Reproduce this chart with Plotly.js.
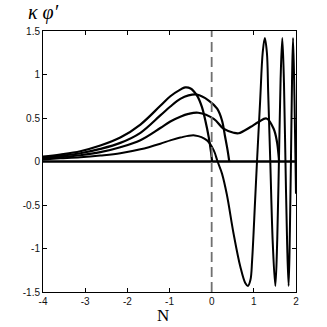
<!DOCTYPE html>
<html>
<head>
<meta charset="utf-8">
<script src="https://cdn.plot.ly/plotly-3.0.1.min.js"></script>
<style>
  html, body { margin: 0; padding: 0; background: #fff; }
  #chart { width: 327px; height: 327px; }
</style>
</head>
<body>
<div id="chart"></div>
<script>
// curve values (N, kappa*phi')
const nA = [-4, -3.59, -3.115, -2.64, -2.167, -1.69, -1.218, -0.98, -0.744, -0.63, -0.5, -0.35, -0.23, -0.15, -0.07, -0.016, 0.01];
const kA = [0.055, 0.08, 0.118, 0.183, 0.275, 0.425, 0.64, 0.75, 0.826, 0.852, 0.84, 0.76, 0.625, 0.47, 0.28, 0.11, 0];

const nB = [-4, -3.59, -3.115, -2.64, -2.167, -1.69, -1.218, -0.98, -0.744, -0.55, -0.35, -0.07, 0.13, 0.245, 0.32, 0.378, 0.418];
const kB = [0.045, 0.066, 0.095, 0.145, 0.214, 0.33, 0.53, 0.632, 0.72, 0.76, 0.77, 0.70, 0.607, 0.472, 0.281, 0.128, 0];

const nC = [-4, -3.59, -3.115, -2.64, -2.167, -1.69, -1.218, -0.98, -0.744, -0.55, -0.32, 0.05, 0.28, 0.52, 0.64, 0.92, 1.11, 1.3, 1.47, 1.55, 1.587, 1.60];
const kC = [0.035, 0.05, 0.072, 0.107, 0.164, 0.245, 0.385, 0.46, 0.515, 0.547, 0.56, 0.49, 0.377, 0.331, 0.325, 0.396, 0.453, 0.495, 0.377, 0.224, 0.07, 0];

const nD = [-4, -3.59, -3.115, -2.64, -2.167, -1.69, -1.218, -0.98, -0.744, -0.4, -0.11, 0.05, 0.14, 0.245, 0.36, 0.52, 0.68, 0.80, 0.86,
            0.92, 0.96, 1.03, 1.075, 1.15, 1.21, 1.26, 1.31, 1.34, 1.39, 1.45, 1.51, 1.555, 1.595, 1.635, 1.675, 1.715,
            1.75, 1.79, 1.825, 1.855, 1.88, 1.905, 1.93, 1.965, 2.0];
const kD = [0.024, 0.036, 0.049, 0.069, 0.095, 0.14, 0.205, 0.243, 0.275, 0.30, 0.243, 0.128, 0, -0.139, -0.38, -0.83, -1.21, -1.40, -1.43,
            -1.36, -1.13, -0.45, 0, 0.70, 1.25, 1.42, 1.25, 0.8, 0, -0.95, -1.43, -0.9, 0, 0.95, 1.42, 0.9,
            0, -0.95, -1.43, -0.8, 0, 0.9, 1.42, 0.7, -0.37];

const nZero = [-4, 2];
const kZero = [0, 0];

const xTicks = [-4, -3, -2, -1, 0, 1, 2];
const yTicks = [-1.5, -1, -0.5, 0, 0.5, 1, 1.5];
const yTickText = ['-1.5', '-1', '-0.5', '0', '0.5', '1', '1.5'];

const line = w => ({color: '#000', width: w, shape: 'spline', smoothing: 1});

const traces = [
    {x: nZero, y: kZero, mode: 'lines', line: {color: '#000', width: 2.6}},
    {x: nA, y: kA, mode: 'lines', line: line(2.2)},
    {x: nB, y: kB, mode: 'lines', line: line(2.2)},
    {x: nC, y: kC, mode: 'lines', line: line(2.2)},
    {x: nD, y: kD, mode: 'lines', line: line(2)}
];

const axisBase = {
    showgrid: false, zeroline: false, showline: true, mirror: 'ticks',
    linecolor: '#000', linewidth: 1, ticks: 'inside', ticklen: 4, tickcolor: '#000',
    tickfont: {family: 'Liberation Sans, Arial, sans-serif', size: 10, color: '#111'}
};

const serif = 'Liberation Serif, Times New Roman, serif';

const layout = {
    width: 327, height: 327,
    margin: {l: 43, r: 31, t: 31, b: 35},
    paper_bgcolor: '#fff', plot_bgcolor: '#fff',
    showlegend: false,
    xaxis: Object.assign({}, axisBase, {
        range: [-4, 2], tickvals: xTicks, ticktext: xTicks.map(String)
    }),
    yaxis: Object.assign({}, axisBase, {
        range: [-1.5, 1.5], tickvals: yTicks, ticktext: yTickText
    }),
    shapes: [{
        type: 'line', xref: 'x', yref: 'paper', x0: 0, x1: 0, y0: 0, y1: 1,
        line: {color: '#707070', width: 1.8, dash: '10px,5px'}
    }],
    annotations: [{
        text: '<i>κ φ′</i>', xref: 'paper', yref: 'paper', x: 0.0, y: 1.07,
        xanchor: 'center', yanchor: 'middle', showarrow: false,
        font: {family: serif, size: 20, color: '#000'}
    }, {
        text: 'N', xref: 'paper', yref: 'paper', x: 0.476, y: -0.131,
        xanchor: 'center', yanchor: 'bottom', showarrow: false, borderpad: 0,
        font: {family: serif, size: 17, color: '#000'}
    }]
};

Plotly.newPlot('chart', traces, layout, {displayModeBar: false, staticPlot: true});
</script>
</body>
</html>
